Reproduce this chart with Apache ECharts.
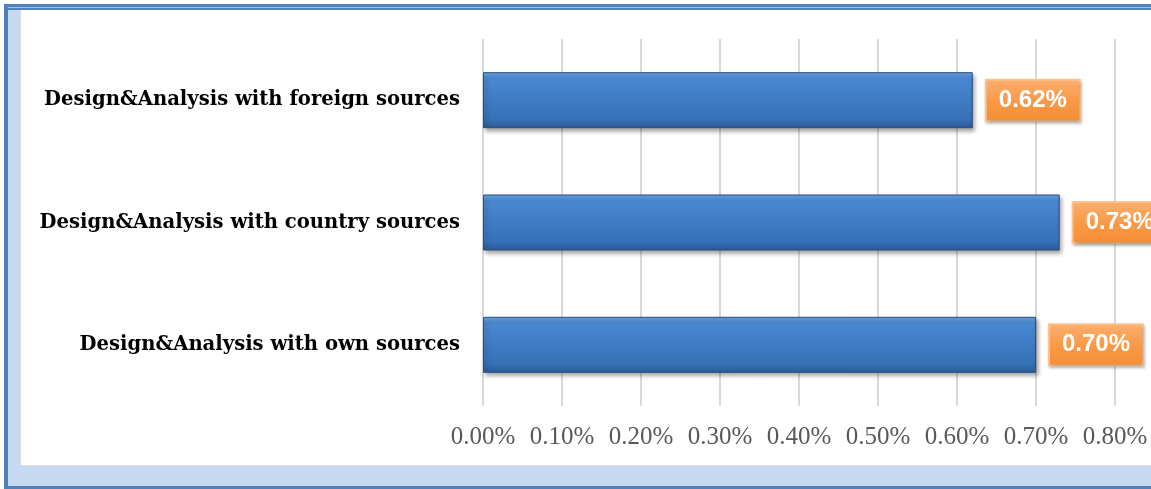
<!DOCTYPE html>
<html>
<head>
<meta charset="utf-8">
<script src="https://cdn.jsdelivr.net/npm/echarts@6/dist/echarts.min.js"></script>
<style>
  html, body { margin: 0; padding: 0; background: #fff; }
  #chart { width: 1151px; height: 489px; }
</style>
</head>
<body>
<div id="chart"></div>
<script>
const categories = [
  'Design&Analysis with own sources',
  'Design&Analysis with country sources',
  'Design&Analysis with foreign sources'
];
const shares = [0.70, 0.73, 0.62];
const tickMax = 0.8;
const tickStep = 0.1;

const chart = echarts.init(document.getElementById('chart'));

const barFill = new echarts.graphic.LinearGradient(0, 0, 0, 1, [
  { offset: 0, color: '#6aa6e6' },
  { offset: 0.12, color: '#4a88d2' },
  { offset: 0.5, color: '#3f7bc4' },
  { offset: 0.85, color: '#3670b5' },
  { offset: 1, color: '#2a5a94' }
]);

const labelFill = new echarts.graphic.LinearGradient(0, 0, 0, 1, [
  { offset: 0, color: '#fbb070' },
  { offset: 0.5, color: '#f99a48' },
  { offset: 1, color: '#f68d35' }
]);

// frame drawn around the plot, like the document box in the picture
const frame = [
  { type: 'rect', shape: { x: 4, y: 4, width: 1147, height: 6 }, style: { fill: '#4f81bd' } },
  { type: 'rect', shape: { x: 4, y: 7, width: 1147, height: 1 }, style: { fill: '#9dbbe0' } },
  { type: 'rect', shape: { x: 4, y: 4, width: 4, height: 485 }, style: { fill: '#4f81bd' } },
  { type: 'rect', shape: { x: 8, y: 10, width: 12, height: 476 }, style: { fill: '#c6d9f0' } },
  { type: 'rect', shape: { x: 8, y: 466, width: 1143, height: 20 }, style: { fill: '#c6d9f0' } },
  { type: 'rect', shape: { x: 4, y: 486, width: 1147, height: 3 }, style: { fill: '#4f81bd' } },
  { type: 'rect', shape: { x: 20, y: 10, width: 1, height: 456 }, style: { fill: '#dcdcdc' } },
  { type: 'rect', shape: { x: 20, y: 465, width: 1131, height: 1 }, style: { fill: '#dcdcdc' } }
];

chart.setOption({
  backgroundColor: '#fff',
  animation: false,
  graphic: frame,
  grid: { left: 483, right: 36, top: 39, bottom: 83 },
  xAxis: {
    type: 'value',
    min: 0,
    max: tickMax,
    interval: tickStep,
    axisLine: { show: false },
    axisTick: { show: false },
    splitLine: { lineStyle: { color: '#d9d9d9', width: 2 } },
    axisLabel: {
      margin: 19,
      color: '#595959',
      fontFamily: '"Liberation Serif", "DejaVu Serif", serif',
      fontSize: 25,
      formatter: v => v.toFixed(2) + '%'
    }
  },
  yAxis: {
    type: 'category',
    data: categories,
    axisLine: { show: false },
    axisTick: { show: false },
    axisLabel: {
      margin: 23,
      color: '#000',
      fontWeight: 'bold',
      fontFamily: '"DejaVu Serif", "Liberation Serif", serif',
      fontSize: 19.6
    }
  },
  series: [{
    type: 'bar',
    data: shares,
    barWidth: 56,
    itemStyle: {
      color: barFill,
      borderColor: '#2b4f7e',
      borderWidth: 1,
      shadowColor: 'rgba(0,0,0,0.35)',
      shadowBlur: 4,
      shadowOffsetX: 2,
      shadowOffsetY: 3
    },
    label: {
      show: true,
      position: 'right',
      distance: 14,
      formatter: p => p.value.toFixed(2) + '%',
      color: '#fff',
      fontWeight: 'bold',
      fontFamily: '"Liberation Sans", Arial, sans-serif',
      fontSize: 24,
      lineHeight: 24,
      padding: [8, 12, 7, 12],
      backgroundColor: labelFill,
      borderColor: '#fcc38f',
      borderWidth: 2,
      shadowColor: 'rgba(0,0,0,0.25)',
      shadowBlur: 3,
      shadowOffsetX: 1,
      shadowOffsetY: 2
    }
  }]
});

window.addEventListener('resize', () => chart.resize());
</script>
</body>
</html>
